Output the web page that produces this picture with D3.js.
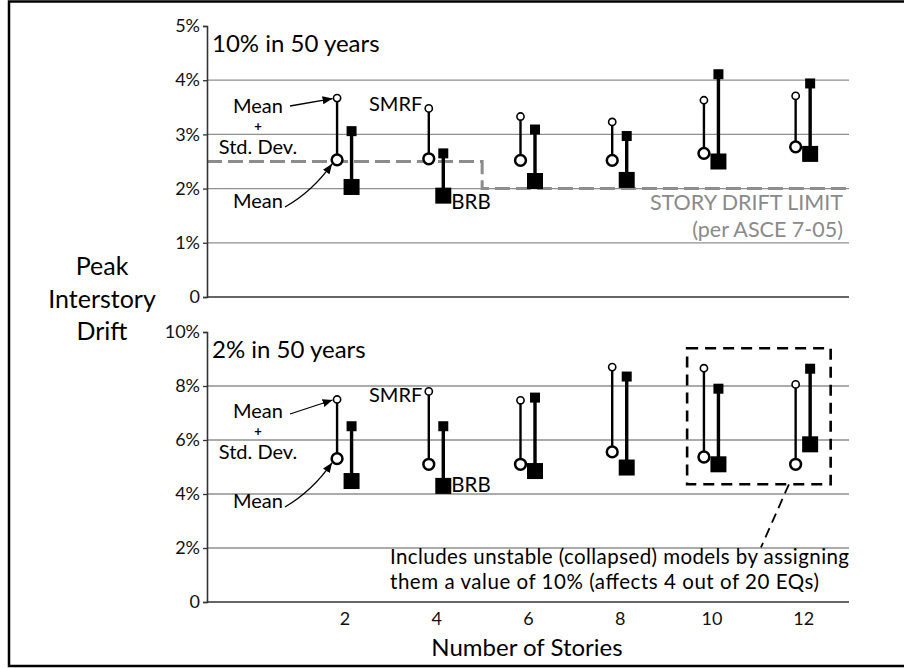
<!DOCTYPE html>
<html>
<head>
<meta charset="utf-8">
<script src="https://cdn.jsdelivr.net/npm/d3@7"></script>
<style>
  body { margin: 0; background: #fff; }
  svg { display: block; font-family: Lato, "Open Sans", sans-serif; }
</style>
</head>
<body>
<div id="viz"></div>
<script>
// chart data (peak interstory drift, %)
const stories = [2, 4, 6, 8, 10, 12];

// 10% in 50 years
const smrf10Mean    = [2.53, 2.55, 2.52, 2.52, 2.65, 2.77];
const smrf10MeanStd = [3.67, 3.48, 3.33, 3.23, 3.63, 3.71];
const brb10Mean     = [2.03, 1.87, 2.14, 2.16, 2.50, 2.64];
const brb10MeanStd  = [3.06, 2.65, 3.09, 2.97, 4.11, 3.94];

// 2% in 50 years
const smrf2Mean    = [5.31, 5.10, 5.10, 5.56, 5.37, 5.10];
const smrf2MeanStd = [7.50, 7.80, 7.47, 8.70, 8.66, 8.06];
const brb2Mean     = [4.48, 4.30, 4.85, 4.98, 5.10, 5.84];
const brb2MeanStd  = [6.51, 6.51, 7.57, 8.35, 7.90, 8.64];

// story drift limit (ASCE 7-05), stepped at 5 stories
const limitStories = [-1, 5, 5, 13];
const limitValues  = [2.5, 2.5, 2.0, 2.0];

const topTicks = [0, 1, 2, 3, 4, 5];
const botTicks = [0, 2, 4, 6, 8, 10];

const width = 904, height = 668;

const svg = d3.select("#viz").append("svg")
  .attr("width", width)
  .attr("height", height);

// arrowhead
svg.append("defs").append("marker")
  .attr("id", "arrow")
  .attr("viewBox", "0 0 10 8")
  .attr("refX", 10).attr("refY", 4)
  .attr("markerWidth", 10).attr("markerHeight", 8)
  .attr("markerUnits", "userSpaceOnUse")
  .attr("orient", "auto")
  .append("path")
  .attr("d", "M0,0 L10,4 L0,8 Z")
  .attr("fill", "#000");

// outer frame
svg.append("path")
  .attr("d", "M904,1.5 H9 V666 H904")
  .attr("fill", "none")
  .attr("stroke", "#000")
  .attr("stroke-width", 2.5);

const x = d3.scaleLinear().domain([-1, 13]).range([207, 849]);
const yTop = d3.scaleLinear().domain([0, 5]).range([297, 26]);
const yBot = d3.scaleLinear().domain([0, 10]).range([602, 332]);

const panels = [
  {
    y: yTop, ticks: topTicks, title: "10% in 50 years",
    smrfMean: smrf10Mean, smrfStd: smrf10MeanStd,
    brbMean: brb10Mean, brbStd: brb10MeanStd,
    smrfLabel: 3.44, brbLabel: 1.62,
    ann: { mean: 87, mean2: 182, arrowTop: 80, arrowBot: 181 }
  },
  {
    y: yBot, ticks: botTicks, title: "2% in 50 years",
    smrfMean: smrf2Mean, smrfStd: smrf2MeanStd,
    brbMean: brb2Mean, brbStd: brb2MeanStd,
    smrfLabel: 7.42, brbLabel: 4.06,
    ann: { mean: 86, mean2: 176, arrowTop: 82, arrowBot: 175 }
  }
];

panels.forEach(drawPanel);

function drawPanel(p) {
  const y = p.y;
  const top = y.range()[1];
  const g = svg.append("g");

  // grid lines
  g.selectAll("line.grid")
    .data(p.ticks.filter(d => d > 0 && d < y.domain()[1]))
    .enter().append("line")
    .attr("class", "grid")
    .attr("x1", x.range()[0]).attr("x2", x.range()[1])
    .attr("y1", d => y(d)).attr("y2", d => y(d))
    .attr("stroke", "#8f8f8f")
    .attr("stroke-width", 1.3);

  // baseline
  g.append("line")
    .attr("x1", x.range()[0]).attr("x2", x.range()[1])
    .attr("y1", y(0)).attr("y2", y(0))
    .attr("stroke", "#333")
    .attr("stroke-width", 1.6);

  // y axis
  const ax = g.append("g")
    .attr("transform", `translate(${x.range()[0]},0)`)
    .call(d3.axisLeft(y)
      .tickValues(p.ticks)
      .tickSize(4)
      .tickPadding(3)
      .tickFormat(d => d === 0 ? "0" : d + "%"));
  ax.select(".domain").attr("stroke", "#333").attr("stroke-width", 1.6);
  ax.selectAll(".tick line").attr("stroke", "#333").attr("stroke-width", 1.3);
  ax.selectAll(".tick text")
    .attr("font-size", 18)
    .attr("font-family", "Lato, sans-serif")
    .attr("fill", "#111");

  // panel title
  g.append("text")
    .attr("x", 212)
    .attr("y", top + 26)
    .attr("font-size", 24)
    .text(p.title);

  const rows = stories.map((s, i) => ({
    s: s, sm: p.smrfMean[i], ss: p.smrfStd[i], bm: p.brbMean[i], bs: p.brbStd[i]
  }));

  // SMRF: open circles
  g.selectAll("line.smrf").data(rows).enter().append("line")
    .attr("x1", d => x(d.s) - 7.5).attr("x2", d => x(d.s) - 7.5)
    .attr("y1", d => y(d.sm)).attr("y2", d => y(d.ss))
    .attr("stroke", "#000").attr("stroke-width", 2.4);
  g.selectAll("circle.smrfStd").data(rows).enter().append("circle")
    .attr("cx", d => x(d.s) - 7.5).attr("cy", d => y(d.ss))
    .attr("r", 3.6)
    .attr("fill", "#fff").attr("stroke", "#000").attr("stroke-width", 1.6);
  g.selectAll("circle.smrfMean").data(rows).enter().append("circle")
    .attr("cx", d => x(d.s) - 7.5).attr("cy", d => y(d.sm))
    .attr("r", 5.4)
    .attr("fill", "#fff").attr("stroke", "#000").attr("stroke-width", 2.5);

  // BRB: filled squares
  g.selectAll("line.brb").data(rows).enter().append("line")
    .attr("x1", d => x(d.s) + 7).attr("x2", d => x(d.s) + 7)
    .attr("y1", d => y(d.bm)).attr("y2", d => y(d.bs))
    .attr("stroke", "#000").attr("stroke-width", 3.4);
  g.selectAll("rect.brbStd").data(rows).enter().append("rect")
    .attr("x", d => x(d.s) + 7 - 5).attr("y", d => y(d.bs) - 5)
    .attr("width", 10).attr("height", 10)
    .attr("fill", "#000");
  g.selectAll("rect.brbMean").data(rows).enter().append("rect")
    .attr("x", d => x(d.s) + 7 - 8).attr("y", d => y(d.bm) - 8)
    .attr("width", 16).attr("height", 16)
    .attr("fill", "#000");

  // series labels next to the 4-story marks
  g.append("text")
    .attr("x", x(4) - 14)
    .attr("y", y(p.smrfLabel))
    .attr("text-anchor", "end")
    .attr("font-size", 20)
    .text("SMRF");
  g.append("text")
    .attr("x", x(4) + 15)
    .attr("y", y(p.brbLabel))
    .attr("font-size", 20.5)
    .text("BRB");

  // Mean / Mean + Std. Dev. callouts on the 2-story SMRF marks
  const a = p.ann;
  const cx = x(2) - 7.5;
  g.append("text")
    .attr("x", 258).attr("y", top + a.mean)
    .attr("text-anchor", "middle")
    .attr("font-size", 20)
    .text("Mean");
  g.append("text")
    .attr("x", 258).attr("y", top + a.mean + 18)
    .attr("text-anchor", "middle")
    .attr("font-size", 13)
    .attr("font-weight", "bold")
    .text("+");
  g.append("text")
    .attr("x", 258).attr("y", top + a.mean + 41)
    .attr("text-anchor", "middle")
    .attr("font-size", 20)
    .text("Std. Dev.");

  g.append("text")
    .attr("x", 258)
    .attr("y", top + a.mean2)
    .attr("text-anchor", "middle")
    .attr("font-size", 20)
    .text("Mean");

  g.append("line")
    .attr("x1", 290).attr("y1", top + a.arrowTop)
    .attr("x2", cx - 4.5).attr("y2", y(p.smrfStd[0]) + 0.5)
    .attr("stroke", "#000").attr("stroke-width", 1.3)
    .attr("marker-end", "url(#arrow)");
  const mx = cx - 5, my = y(p.smrfMean[0]) + 4;
  g.append("path")
    .attr("d", `M285,${top + a.arrowBot} Q${(285 + mx) / 2 + 4},${(top + a.arrowBot + my) / 2 + 6} ${mx},${my}`)
    .attr("fill", "none")
    .attr("stroke", "#000").attr("stroke-width", 1.3)
    .attr("marker-end", "url(#arrow)");
}

// story drift limit (top panel)
const limitLine = d3.line()
  .x(d => x(d[0]))
  .y(d => yTop(d[1]));
svg.insert("path", "g")
  .datum(limitStories.map((s, i) => [s, limitValues[i]]))
  .attr("d", limitLine)
  .attr("fill", "none")
  .attr("stroke", "#8c8c8c")
  .attr("stroke-width", 3)
  .attr("stroke-dasharray", "15,6");

const limitText = svg.append("text")
  .attr("text-anchor", "end")
  .attr("font-size", 21.5)
  .attr("fill", "#8a8a8a");
limitText.append("tspan").attr("x", 843).attr("y", 210).text("STORY DRIFT LIMIT");
limitText.append("tspan").attr("x", 843).attr("y", 237).text("(per ASCE 7-05)");

// dashed box around 10 & 12 story results (bottom panel)
svg.append("rect")
  .attr("x", x(9.47)).attr("y", yBot(9.4))
  .attr("width", x(12.6) - x(9.47))
  .attr("height", yBot(4.36) - yBot(9.4))
  .attr("fill", "none")
  .attr("stroke", "#000").attr("stroke-width", 2.6)
  .attr("stroke-dasharray", "11,7");
svg.append("line")
  .attr("x1", x(11.69)).attr("y1", yBot(4.36))
  .attr("x2", x(11.08)).attr("y2", yBot(2.02))
  .attr("stroke", "#000").attr("stroke-width", 1.8)
  .attr("stroke-dasharray", "10,6");

svg.append("text")
  .attr("x", 390).attr("y", 564)
  .attr("font-size", 20.5)
  .attr("textLength", 459)
  .text("Includes unstable (collapsed) models by assigning");
svg.append("text")
  .attr("x", 390).attr("y", 589)
  .attr("font-size", 20.5)
  .attr("textLength", 429)
  .text("them a value of 10% (affects 4 out of 20 EQs)");

// x axis labels
const xa = svg.append("g")
  .attr("transform", `translate(0,${yBot(0)})`)
  .call(d3.axisBottom(x).tickValues(stories).tickSize(0).tickPadding(10));
xa.select(".domain").remove();
xa.selectAll(".tick text")
  .attr("font-size", 18)
  .attr("font-family", "Lato, sans-serif")
  .attr("fill", "#111");

svg.append("text")
  .attr("x", 527).attr("y", 656)
  .attr("text-anchor", "middle")
  .attr("font-size", 24)
  .text("Number of Stories");

// y axis title
const yt = svg.append("text")
  .attr("text-anchor", "middle")
  .attr("font-size", 25);
["Peak", "Interstory", "Drift"].forEach((t, i) => {
  yt.append("tspan").attr("x", 102).attr("y", 275 + i * 32.5).text(t);
});
</script>
</body>
</html>
